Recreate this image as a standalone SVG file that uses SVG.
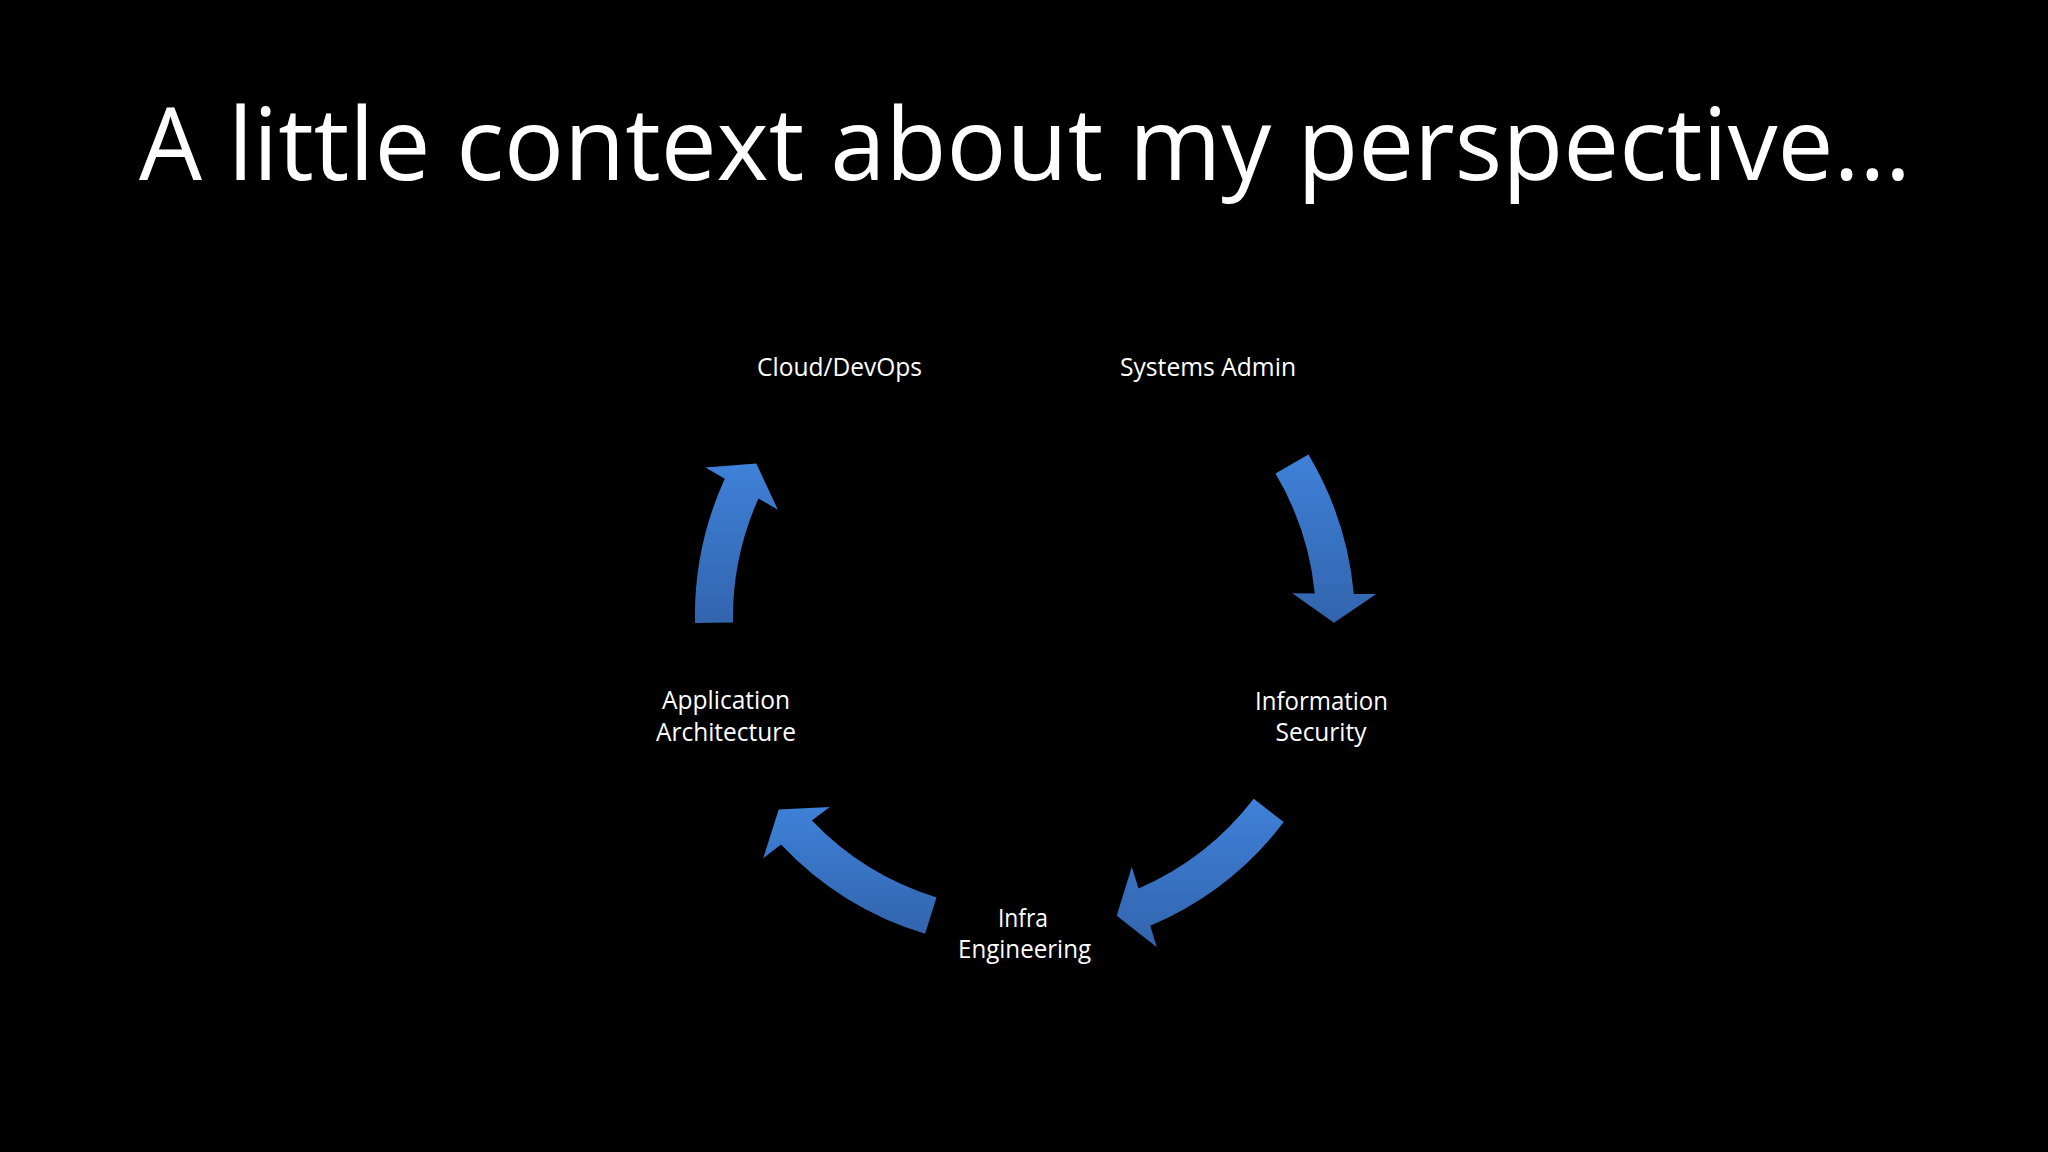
<svg xmlns="http://www.w3.org/2000/svg" width="2048" height="1152" viewBox="0 0 2048 1152">
  <style>
    .title { font-family: "Open Sans", "Liberation Sans", sans-serif; font-size: 100px; fill: #ffffff; }
    .label { font-family: "Open Sans", "Liberation Sans", sans-serif; font-size: 25px; fill: #ffffff; text-anchor: middle; }
    .arrow { fill: url(#arrowGrad); stroke: none; }
  </style>
  <defs>
    <linearGradient id="arrowGrad" x1="0" y1="0" x2="0" y2="1">
      <stop offset="0" stop-color="#3f81d8"/>
      <stop offset="1" stop-color="#3264ad"/>
    </linearGradient>
  </defs>
  <rect x="0" y="0" width="2048" height="1152" fill="#000000"/>

  <text class="title" x="139" y="180" textLength="1772" lengthAdjust="spacingAndGlyphs">A little context about my perspective…</text>

  <g id="connectors">
    <!-- Application Architecture -> Cloud/DevOps -->
    <path id="arrow-app-cloud" class="arrow" d="M 733.0 622.5 A 291 291 0 0 1 758.5 498.5 L 777.9 509.8 L 756.3 463.6 L 705.4 467.5 L 724.8 478.8 A 329 329 0 0 0 695.0 622.9 Z"/>
    <!-- Systems Admin -> Information Security -->
    <path id="arrow-sys-info" class="arrow" d="M 1275.5 473.6 A 291 291 0 0 1 1314.8 593.5 L 1292.3 593.3 L 1334.0 622.7 L 1376.3 594.1 L 1353.8 593.9 A 329 329 0 0 0 1308.4 454.5 Z"/>
    <!-- Information Security -> Infra Engineering -->
    <path id="arrow-info-infra" class="arrow" d="M 1253.7 798.8 A 291 291 0 0 1 1138.5 888.5 L 1131.8 867.1 L 1116.7 915.8 L 1156.9 947.2 L 1150.2 925.7 A 329 329 0 0 0 1283.7 822.1 Z"/>
    <!-- Infra Engineering -> Application Architecture -->
    <path id="arrow-infra-app" class="arrow" d="M 936.5 897.5 A 291 291 0 0 1 811.9 820.6 L 829.7 806.9 L 778.7 809.6 L 763.2 858.2 L 781.0 844.5 A 329 329 0 0 0 925.1 933.8 Z"/>
  </g>

  <g id="node-cloud-devops">
    <text class="label" x="839.5" y="376" textLength="165" lengthAdjust="spacingAndGlyphs">Cloud/DevOps</text>
  </g>
  <g id="node-systems-admin">
    <text class="label" x="1208" y="376" textLength="176" lengthAdjust="spacingAndGlyphs">Systems Admin</text>
  </g>
  <g id="node-information-security">
    <text class="label" x="1321.5" y="710" textLength="133" lengthAdjust="spacingAndGlyphs">Information</text>
    <text class="label" x="1321" y="740.5" textLength="91" lengthAdjust="spacingAndGlyphs">Security</text>
  </g>
  <g id="node-infra-engineering">
    <text class="label" x="1023" y="926.5" textLength="50" lengthAdjust="spacingAndGlyphs">Infra</text>
    <text class="label" x="1024.5" y="958" textLength="133" lengthAdjust="spacingAndGlyphs">Engineering</text>
  </g>
  <g id="node-application-architecture">
    <text class="label" x="726" y="709" textLength="128" lengthAdjust="spacingAndGlyphs">Application</text>
    <text class="label" x="726" y="740.5" textLength="140" lengthAdjust="spacingAndGlyphs">Architecture</text>
  </g>
</svg>
